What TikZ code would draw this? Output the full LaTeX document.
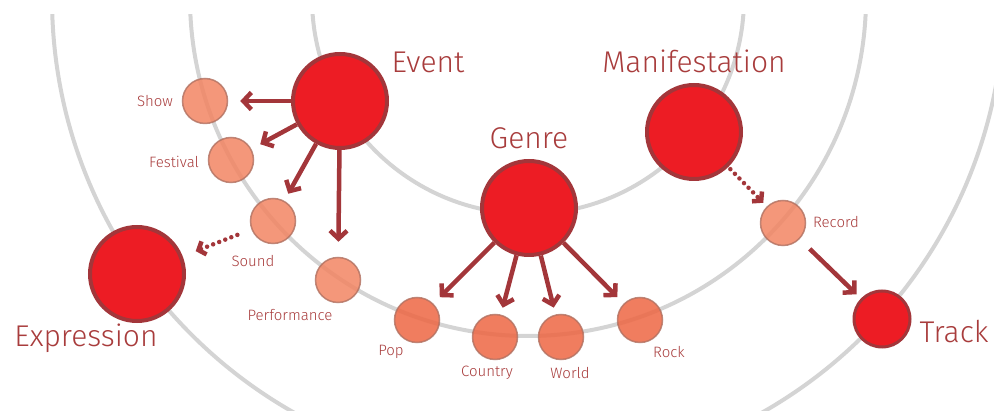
\documentclass[tikz,border=0pt]{standalone}
\usepackage{fontspec}
\setmainfont{Fira Sans Light}
\usetikzlibrary{arrows.meta}
\definecolor{bigfill}{HTML}{ED1C24}
\definecolor{bigdraw}{HTML}{A3363A}
\definecolor{txt}{HTML}{A83C3C}
\definecolor{arcgray}{HTML}{D4D4D4}
\definecolor{evfill}{HTML}{F28563}
\definecolor{gnfill}{HTML}{ED6643}
\definecolor{smdraw}{HTML}{B07060}
\definecolor{arr}{HTML}{A3363A}
\begin{document}
\begin{tikzpicture}[x=1pt,y=-1pt,
  big/.style={circle, fill=bigfill, draw=bigdraw, line width=4pt, minimum size=94pt, inner sep=0pt},
  mid/.style={circle, fill=bigfill, draw=bigdraw, line width=3pt, minimum size=56pt, inner sep=0pt},
  evsmall/.style={circle, fill=evfill, fill opacity=0.85, draw=smdraw, draw opacity=0.8, line width=1.5pt, minimum size=45pt, inner sep=0pt},
  gnsmall/.style={circle, fill=gnfill, fill opacity=0.85, draw=smdraw, draw opacity=0.8, line width=1.5pt, minimum size=45pt, inner sep=0pt},
  biglab/.style={text=txt, font=\fontsize{30}{32}\selectfont, inner sep=0pt},
  smalllab/.style={text=txt, font=\fontsize{15}{16}\selectfont, inner sep=0pt},
  conn/.style={draw=arr, line width=4.5pt, -{Straight Barb[length=8pt,width=17pt]}},
  dotconn/.style={draw=arr, line width=4.5pt, line cap=round, dash pattern=on 0pt off 6.5pt, -{Straight Barb[length=6pt,width=14pt]}},
  arcline/.style={draw=arcgray, line width=4pt}
]
\useasboundingbox (0,0) rectangle (994,411);
\begin{scope}
  \clip (0,15) rectangle (994,411);
  \draw[arcline] (528,-2) circle[radius=216pt];
  \draw[arcline] (528,-2) circle[radius=338pt];
  \draw[arcline] (528,-2) circle[radius=476pt];
\end{scope}

% big nodes
\node[big] (ev) at (340,101) {};
\node[big] (gn) at (529,208) {};
\node[big] (mf) at (694,132) {};
\node[big] (ex) at (137,274) {};
\node[mid] (tr) at (882,319) {};

% small nodes
\node[evsmall] (show) at (205,101) {};
\node[evsmall] (fest) at (231,160) {};
\node[evsmall] (sound) at (273,221) {};
\node[evsmall] (perf) at (338,280) {};
\node[evsmall] (rec) at (783,223) {};
\node[gnsmall] (pop) at (417,320) {};
\node[gnsmall] (country) at (495,337) {};
\node[gnsmall] (world) at (561,337) {};
\node[gnsmall] (rock) at (640,320) {};

% big labels
\node[biglab] (evl) at (428,62) {Event};
\node[biglab] (gnl) at (529,138) {Genre};
\node[biglab] (mfl) at (694,61) {Manifestation};
\node[biglab] (exl) at (86,338) {Expression};
\node[biglab] (trl) at (954,332) {Track};

% small labels
\node[smalllab] (showl) at (155,101) {Show};
\node[smalllab] (festl) at (174,162) {Festival};
\node[smalllab] (soundl) at (253,261) {Sound};
\node[smalllab] (perfl) at (290,315) {Performance};
\node[smalllab] (popl) at (391,352) {Pop};
\node[smalllab] (countryl) at (487,373) {Country};
\node[smalllab] (worldl) at (570,373) {World};
\node[smalllab] (rockl) at (669,352) {Rock};
\node[smalllab] (recl) at (836,222) {Record};

% connectors
\draw[conn, shorten >=12pt] (ev) -- (show);
\draw[conn, shorten >=10pt] (ev) -- (fest);
\draw[conn, shorten >=8pt] (ev) -- (sound);
\draw[conn, shorten >=15pt] (ev) -- (perf);
\draw[conn, shorten >=9pt] (gn) -- (pop);
\draw[conn, shorten >=7pt] (gn) -- (country);
\draw[conn, shorten >=7pt] (gn) -- (world);
\draw[conn, shorten >=9pt] (gn) -- (rock);
\draw[conn, shorten <=14pt, shorten >=6pt] (rec) -- (tr);
\draw[dotconn, shorten <=3pt, shorten >=5pt] (mf) -- (rec);
\draw[dotconn, shorten <=15pt, shorten >=14pt] (sound) -- (ex);
\end{tikzpicture}
\end{document}
